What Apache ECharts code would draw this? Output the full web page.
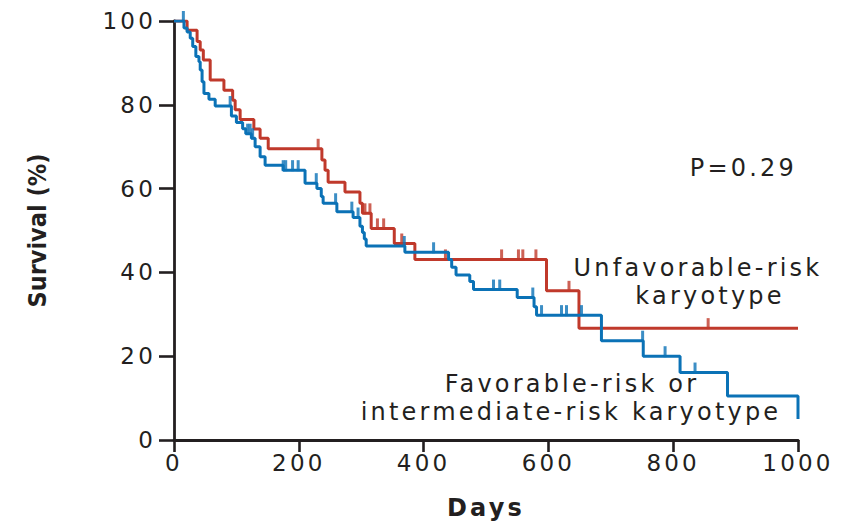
<!DOCTYPE html>
<html>
<head>
<meta charset="utf-8">
<script src="https://cdn.jsdelivr.net/npm/echarts@6/dist/echarts.min.js"></script>
<style>
html,body{margin:0;padding:0;background:#ffffff;}
#chart{width:859px;height:526px;}
#chart svg text{letter-spacing:3.2px;}
#chart svg text[style*="Condensed"], #chart svg text[font-family*="Condensed"]{letter-spacing:0;}
</style>
</head>
<body>
<div id="chart"></div>
<script>
// Unfavorable-risk karyotype (red): event times (days) and survival (%) after each step
const redTimes = [0, 21, 37, 42, 47, 58, 80, 94, 98, 106, 128, 138, 151, 237, 242, 247, 274, 298, 302, 316, 353, 386, 597, 649, 1000];
const redSurv  = [100, 97.8, 95.1, 93.1, 90.7, 85.9, 83.5, 81.1, 78.8, 76.5, 74.2, 72.0, 69.5, 66.8, 64.4, 61.5, 59.2, 56.5, 54.1, 50.5, 46.9, 43.1, 35.6, 26.7, 26.7];
const redCensor = [231, 306, 314, 326, 336, 365, 435, 525, 552, 559, 580, 633, 856];

// Favorable-risk or intermediate-risk karyotype (blue)
const blueTimes = [0, 16, 21, 26, 30, 35, 40, 42, 45, 48, 56, 66, 92, 100, 110, 115, 124, 130, 138, 146, 175, 210, 229, 236, 239, 261, 287, 298, 302, 305, 308, 370, 440, 445, 452, 474, 480, 550, 577, 581, 685, 752, 811, 887, 1000];
const blueSurv  = [100, 98.3, 97.4, 95.9, 93.9, 91.5, 90.3, 88.3, 85.5, 82.7, 81.3, 79.7, 77.3, 75.8, 74.3, 73.1, 72.0, 70.0, 67.6, 65.6, 64.4, 61.3, 60.0, 58.1, 56.5, 54.5, 53.1, 51.0, 49.5, 48.0, 46.3, 44.8, 43.1, 41.2, 39.4, 37.8, 35.9, 34.0, 31.8, 29.8, 23.7, 20.0, 16.1, 10.5, 5.0];
const blueCensor = [15, 90, 118, 122, 126, 175, 179, 190, 199, 228, 259, 285, 295, 369, 416, 512, 522, 575, 589, 621, 629, 653, 751, 787, 835];

const xTickValues = [0, 200, 400, 600, 800, 1000];
const yTickValues = [0, 20, 40, 60, 80, 100];

const RED = '#c0392b';
const BLUE = '#0b72b6';
const INK = '#231f20';
const FONT = 'DejaVu Sans';

function survAt(times, surv, t) {
  let v = surv[0];
  for (let i = 0; i < times.length; i++) {
    if (times[i] <= t) v = surv[i]; else break;
  }
  return v;
}
const redLine = redTimes.map((t, i) => [t, redSurv[i]]);
const blueLine = blueTimes.map((t, i) => [t, blueSurv[i]]);
const redMarks = redCensor.map(t => [t, survAt(redTimes, redSurv, t)]);
const blueMarks = blueCensor.map(t => [t, survAt(blueTimes, blueSurv, t)]);

const chart = echarts.init(document.getElementById('chart'), null, {renderer: 'svg'});
chart.setOption({
  animation: false,
  backgroundColor: '#ffffff',
  grid: {left: 174, right: 61, top: 21, bottom: 86, containLabel: false, outerBoundsMode: 'none'},
  xAxis: {
    type: 'value', min: xTickValues[0], max: xTickValues[xTickValues.length - 1], interval: 200,
    name: 'Days', nameLocation: 'middle', nameGap: 56,
    nameTextStyle: {fontFamily: FONT, fontWeight: 'bold', fontSize: 24, color: INK},
    axisLine: {show: true, lineStyle: {color: INK, width: 2.8}},
    axisTick: {show: true, inside: false, length: 12, lineStyle: {color: INK, width: 2.6}},
    axisLabel: {fontFamily: FONT, fontSize: 23, color: INK, margin: 11, formatter: v => String(v)},
    splitLine: {show: false}
  },
  yAxis: {
    type: 'value', min: yTickValues[0], max: yTickValues[yTickValues.length - 1], interval: 20,
    name: 'Survival (%)', nameLocation: 'middle', nameGap: 124, nameRotate: 90,
    nameTextStyle: {fontFamily: 'DejaVu Sans Condensed', fontWeight: 'bold', fontSize: 25, color: INK},
    axisLine: {show: true, lineStyle: {color: INK, width: 2.8}},
    axisTick: {show: true, inside: false, length: 15, lineStyle: {color: INK, width: 2.6}},
    axisLabel: {fontFamily: FONT, fontSize: 23, color: INK, margin: 18, formatter: v => String(v)},
    splitLine: {show: false}
  },
  graphic: [
    {type: 'text', x: 797, y: 168, silent: true,
     style: {text: 'P=0.29', fontFamily: FONT, fontSize: 24, fill: INK, align: 'right', textAlign: 'right', verticalAlign: 'middle', textVerticalAlign: 'middle'}},
    {type: 'text', x: 698, y: 268, silent: true,
     style: {text: 'Unfavorable-risk', fontFamily: FONT, fontSize: 24, fill: INK, align: 'center', textAlign: 'center', verticalAlign: 'middle', textVerticalAlign: 'middle'}},
    {type: 'text', x: 710, y: 296, silent: true,
     style: {text: 'karyotype', fontFamily: FONT, fontSize: 24, fill: INK, align: 'center', textAlign: 'center', verticalAlign: 'middle', textVerticalAlign: 'middle'}},
    {type: 'text', x: 572, y: 384, silent: true,
     style: {text: 'Favorable-risk or', fontFamily: FONT, fontSize: 24, fill: INK, align: 'center', textAlign: 'center', verticalAlign: 'middle', textVerticalAlign: 'middle'}},
    {type: 'text', x: 571, y: 412, silent: true,
     style: {text: 'intermediate-risk karyotype', fontFamily: FONT, fontSize: 24, fill: INK, align: 'center', textAlign: 'center', verticalAlign: 'middle', textVerticalAlign: 'middle'}}
  ],
  series: [
    {type: 'line', name: 'Unfavorable-risk karyotype', step: 'end', data: redLine, showSymbol: false, silent: true,
     lineStyle: {color: RED, width: 3}, z: 2},
    {type: 'scatter', data: redMarks, symbol: 'rect', symbolSize: [3, 11], symbolOffset: [0, -4.5], silent: true,
     itemStyle: {color: RED}, z: 3},
    {type: 'line', name: 'Favorable-risk or intermediate-risk karyotype', step: 'end', data: blueLine, showSymbol: false, silent: true,
     lineStyle: {color: BLUE, width: 3}, z: 4},
    {type: 'scatter', data: blueMarks, symbol: 'rect', symbolSize: [3, 11], symbolOffset: [0, -4.5], silent: true,
     itemStyle: {color: BLUE}, z: 5}
  ]
});
</script>
</body>
</html>
